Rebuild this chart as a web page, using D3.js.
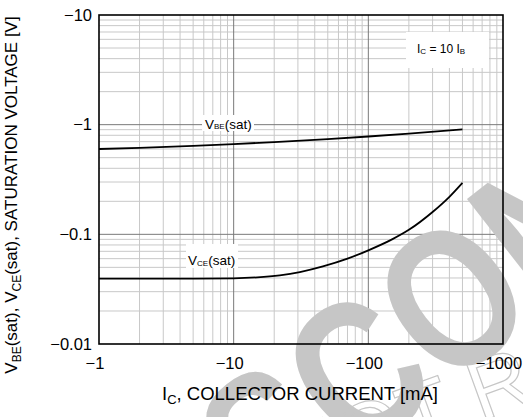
<!DOCTYPE html>
<html>
<head>
<meta charset="utf-8">
<style>
    body { margin: 0; background: #fff; }
    svg { display: block; font-family: "Liberation Sans", Arial, sans-serif; }
</style>
</head>
<body>
<svg id="chart" width="523" height="417"></svg>
<script src="https://d3js.org/d3.v7.min.js"></script>
<script>
    // collector current magnitude [mA] and saturation voltage magnitude [V]
    var vbeCurrent = [1, 2, 5, 10, 20, 50, 100, 200, 500];
    var vbeVoltage = [0.60, 0.615, 0.641, 0.665, 0.694, 0.739, 0.78, 0.828, 0.905];

    var vceCurrent = [1, 2, 5, 10, 15, 22, 31, 46, 70, 100, 150, 200, 300, 400, 500];
    var vceVoltage = [0.0395, 0.0395, 0.0395, 0.0397, 0.0405, 0.0423, 0.0453, 0.051, 0.06, 0.0715, 0.09, 0.11, 0.16, 0.22, 0.295];

    var xTicks = [1, 10, 100, 1000];
    var xTickLabels = ["\u22121", "\u221210", "\u2212100", "\u22121000"];
    var yTicks = [0.01, 0.1, 1, 10];
    var yTickLabels = ["\u22120.01", "\u22120.1", "\u22121", "\u221210"];

    var svg = d3.select("#chart");
    var x = d3.scaleLog().domain([1, 1000]).range([99, 503]);
    var y = d3.scaleLog().domain([0.01, 10]).range([344, 15]);

    // grid: minor lines first, decade lines on top
    var minorX = [], minorY = [];
    [1, 10, 100].forEach(function (d) {
        for (var k = 2; k <= 9; k++) minorX.push(d * k);
    });
    [0.01, 0.1, 1].forEach(function (d) {
        for (var k = 2; k <= 9; k++) minorY.push(d * k);
    });

    var grid = svg.append("g");
    grid.selectAll(".mx").data(minorX).enter().append("line")
        .attr("x1", d => x(d)).attr("x2", d => x(d))
        .attr("y1", y.range()[0]).attr("y2", y.range()[1])
        .attr("stroke", "#c8c8c8").attr("stroke-width", 1);
    grid.selectAll(".my").data(minorY).enter().append("line")
        .attr("y1", d => y(d)).attr("y2", d => y(d))
        .attr("x1", x.range()[0]).attr("x2", x.range()[1])
        .attr("stroke", "#c8c8c8").attr("stroke-width", 1);
    grid.selectAll(".Mx").data([10, 100]).enter().append("line")
        .attr("x1", d => x(d)).attr("x2", d => x(d))
        .attr("y1", y.range()[0]).attr("y2", y.range()[1])
        .attr("stroke", "#7a7a7a").attr("stroke-width", 1);
    grid.selectAll(".My").data([0.1, 1]).enter().append("line")
        .attr("y1", d => y(d)).attr("y2", d => y(d))
        .attr("x1", x.range()[0]).attr("x2", x.range()[1])
        .attr("stroke", "#7a7a7a").attr("stroke-width", 1);

    // label boxes knocking out the grid
    svg.append("rect").attr("x", 202).attr("y", 115).attr("width", 52).attr("height", 16).attr("fill", "#fff");
    svg.append("rect").attr("x", 186).attr("y", 244).attr("width", 52).attr("height", 24).attr("fill", "#fff");
    svg.append("rect").attr("x", 406).attr("y", 32).attr("width", 83).attr("height", 36).attr("fill", "#fff");

    // watermark
    var wm = svg.append("g").attr("pointer-events", "none");
    wm.append("text")
        .attr("transform", "translate(144,626) rotate(-38) scale(1,1.25)")
        .attr("font-size", 160).attr("font-weight", "bold")
        .attr("fill", "#c6c6c6")
        .text("DISCONTINUED");
    wm.append("text")
        .attr("transform", "translate(291,491) rotate(-20)")
        .attr("font-size", 85)
        .attr("fill", "none").attr("stroke", "#c6c6c6").attr("stroke-width", 1.2)
        .text("NOT RECOMMENDED");

    // frame
    svg.append("rect")
        .attr("x", x.range()[0]).attr("y", y.range()[1])
        .attr("width", x.range()[1] - x.range()[0])
        .attr("height", y.range()[0] - y.range()[1])
        .attr("fill", "none").attr("stroke", "#000").attr("stroke-width", 1.6);

    // curves
    var line = d3.line().x(d => x(d[0])).y(d => y(d[1])).curve(d3.curveMonotoneX);
    svg.append("path")
        .attr("d", line(d3.zip(vbeCurrent, vbeVoltage)))
        .attr("fill", "none").attr("stroke", "#000").attr("stroke-width", 1.8);
    svg.append("path")
        .attr("d", line(d3.zip(vceCurrent, vceVoltage)))
        .attr("fill", "none").attr("stroke", "#000").attr("stroke-width", 1.8);

    // tick labels
    svg.selectAll(".xt").data(xTicks).enter().append("text")
        .attr("x", d => x(d) - 4).attr("y", 369)
        .attr("text-anchor", "middle").attr("font-size", 16.5)
        .text((d, i) => xTickLabels[i]);
    svg.selectAll(".yt").data(yTicks).enter().append("text")
        .attr("x", 92).attr("y", d => y(d) + 5.5)
        .attr("text-anchor", "end").attr("font-size", 16.5)
        .text((d, i) => yTickLabels[i]);

    // helper for text with small subscripts
    function subText(sel, parts, size, subSize, shift) {
        parts.forEach(function (p) {
            var t = sel.append("tspan").text(p[0]);
            if (p[1]) {
                t.attr("font-size", subSize).attr("dy", shift);
            } else {
                t.attr("font-size", size);
            }
            if (p[2]) t.attr("dy", -shift);
        });
    }

    var vbe = svg.append("text").attr("x", 205).attr("y", 128.5);
    subText(vbe, [["V"], ["BE", true], ["(sat)", false, true]], 13.5, 8, 0.5);
    var vce = svg.append("text").attr("x", 188).attr("y", 265);
    subText(vce, [["V"], ["CE", true], ["(sat)", false, true]], 13.5, 8, 0.5);
    var ic = svg.append("text").attr("x", 417).attr("y", 53);
    subText(ic, [["I"], ["C", true], [" = 10 I", false, true], ["B", true]], 12, 8, 0.5);

    // axis titles
    var xt = svg.append("text").attr("x", 300).attr("y", 400).attr("text-anchor", "middle");
    subText(xt, [["I"], ["C", true], [", COLLECTOR CURRENT [mA]", false, true]], 18.5, 13, 4);
    var yt = svg.append("text").attr("transform", "translate(17,195) rotate(-90)").attr("text-anchor", "middle");
    subText(yt, [["V"], ["BE", true], ["(sat), V", false, true], ["CE", true], ["(sat), SATURATION VOLTAGE [V]", false, true]], 17, 12, 4);
</script>
</body>
</html>
